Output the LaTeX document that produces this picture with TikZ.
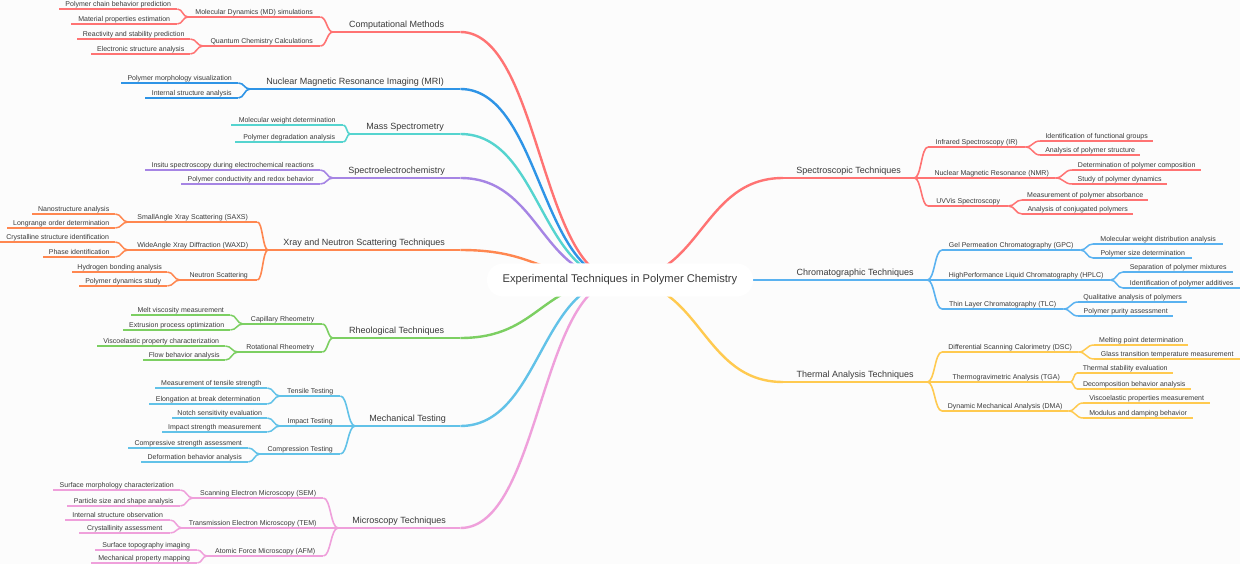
\documentclass[tikz,border=0pt]{standalone}
\usepackage{fontspec}
\setmainfont{Liberation Sans}
\usetikzlibrary{calc}

\definecolor{bgcol}{HTML}{FCFCFC}
\definecolor{txt}{HTML}{3A3A3A}
\definecolor{cRed}{HTML}{FF7373}
\definecolor{cBlue}{HTML}{2E94E6}
\definecolor{cTeal}{HTML}{55D4CF}
\definecolor{cPurple}{HTML}{A685E4}
\definecolor{cOrange}{HTML}{FF8750}
\definecolor{cGreen}{HTML}{7CCF62}
\definecolor{cSky}{HTML}{62C2E8}
\definecolor{cPink}{HTML}{EFA0DB}
\definecolor{cAzure}{HTML}{5AB2F0}
\definecolor{cAmber}{HTML}{FFCA50}

\pgfdeclarelayer{back}
\pgfdeclarelayer{links}
\pgfsetlayers{back,links,main}

\tikzset{
  base/.style={anchor=south west, inner xsep=0pt, text=txt, text height=0.75em, text depth=0.2em},
  topic/.style={base, inner ysep=2pt, font=\fontsize{9}{11}\selectfont},
  sub/.style={base, inner ysep=0pt, font=\fontsize{7}{8}\selectfont},
  leaf/.style={sub},
  root/.style={fill=white, rounded corners=16pt, minimum width=266pt, minimum height=33pt, inner sep=0pt, text=txt, font=\fontsize{11.2}{13}\selectfont},
  hcurve/.style={to path={let \p1=(\tikztostart), \p2=(\tikztotarget) in
      .. controls ({0.5*\x1+0.5*\x2},\y1) and ({0.5*\x1+0.5*\x2},\y2) .. (\tikztotarget)}}
}

\begin{document}
\begin{tikzpicture}[x=1pt,y=-1pt]
\useasboundingbox (0,0) rectangle (1240,564);
\begin{pgfonlayer}{back}
  \fill[bgcol] (0,0) rectangle (1240,564);
\end{pgfonlayer}

\node[root] (root) at (620,280) {Experimental Techniques in Polymer Chemistry};

% left side
\node[topic, minimum width=127pt] (comp) at (333,32) {Computational Methods};
\node[sub, minimum width=132pt] (md) at (188,17) {Molecular Dynamics (MD) simulations};
\node[leaf, minimum width=118pt] (pcb) at (59,9) {Polymer chain behavior prediction};
\node[leaf, minimum width=106pt] (mpe) at (71,24) {Material properties estimation};
\node[sub, minimum width=117pt] (qcc) at (203,46) {Quantum Chemistry Calculations};
\node[leaf, minimum width=113pt] (rsp) at (77,39) {Reactivity and stability prediction};
\node[leaf, minimum width=99pt] (esa) at (91,54) {Electronic structure analysis};

\node[topic, minimum width=210pt] (mri) at (250,89) {Nuclear Magnetic Resonance Imaging (MRI)};
\node[sub, minimum width=117pt] (pmv) at (121,83) {Polymer morphology visualization};
\node[sub, minimum width=93pt] (isa) at (145,98) {Internal structure analysis};

\node[topic, minimum width=110pt] (mass) at (350,134) {Mass Spectrometry};
\node[sub, minimum width=112pt] (mwd) at (231,125) {Molecular weight determination};
\node[sub, minimum width=108pt] (pda) at (235,142) {Polymer degradation analysis};

\node[topic, minimum width=127pt] (sec) at (333,178) {Spectroelectrochemistry};
\node[sub, minimum width=175pt] (isd) at (145,170) {Insitu spectroscopy during electrochemical reactions};
\node[sub, minimum width=139pt] (pcr) at (181,184) {Polymer conductivity and redox behavior};

\node[topic, minimum width=192pt] (xray) at (268,250) {Xray and Neutron Scattering Techniques};
\node[sub, minimum width=129pt] (saxs) at (128,222) {SmallAngle Xray Scattering (SAXS)};
\node[leaf, minimum width=83pt] (nano) at (32,214) {Nanostructure analysis};
\node[leaf, minimum width=108pt] (lro) at (7,228) {Longrange order determination};
\node[sub, minimum width=129pt] (waxd) at (128,250) {WideAngle Xray Diffraction (WAXD)};
\node[leaf, minimum width=115pt] (csi) at (0,242) {Crystalline structure identification};
\node[leaf, minimum width=72pt] (phid) at (43,257) {Phase identification};
\node[sub, minimum width=77pt] (neut) at (180,280) {Neutron Scattering};
\node[leaf, minimum width=95pt] (hba) at (72,272) {Hydrogen bonding analysis};
\node[leaf, minimum width=88pt] (pds) at (79,286) {Polymer dynamics study};

\node[topic, minimum width=127pt] (rheo) at (333,338) {Rheological Techniques};
\node[sub, minimum width=79pt] (cap) at (243,324) {Capillary Rheometry};
\node[leaf, minimum width=99pt] (mvm) at (131,315) {Melt viscosity measurement};
\node[leaf, minimum width=107pt] (epo) at (123,330) {Extrusion process optimization};
\node[sub, minimum width=84pt] (rot) at (238,352) {Rotational Rheometry};
\node[leaf, minimum width=128pt] (vpc) at (97,346) {Viscoelastic property characterization};
\node[leaf, minimum width=82pt] (fba) at (143,360) {Flow behavior analysis};

\node[topic, minimum width=105pt] (mech) at (355,426) {Mechanical Testing};
\node[sub, minimum width=60pt] (tens) at (280,396) {Tensile Testing};
\node[leaf, minimum width=112pt] (mts) at (155,388) {Measurement of tensile strength};
\node[leaf, minimum width=118pt] (ebd) at (149,404) {Elongation at break determination};
\node[sub, minimum width=60pt] (imp) at (280,426) {Impact Testing};
\node[leaf, minimum width=95pt] (nse) at (172,418) {Notch sensitivity evaluation};
\node[leaf, minimum width=105pt] (ism) at (162,432) {Impact strength measurement};
\node[sub, minimum width=80pt] (cmp) at (260,454) {Compression Testing};
\node[leaf, minimum width=120pt] (csa) at (128,448) {Compressive strength assessment};
\node[leaf, minimum width=107pt] (dfa) at (141,462) {Deformation behavior analysis};

\node[topic, minimum width=122pt] (micro) at (338,528) {Microscopy Techniques};
\node[sub, minimum width=130pt] (sem) at (193,498) {Scanning Electron Microscopy (SEM)};
\node[leaf, minimum width=127pt] (smc) at (53,490) {Surface morphology characterization};
\node[leaf, minimum width=113pt] (pss) at (67,506) {Particle size and shape analysis};
\node[sub, minimum width=141pt] (tem) at (182,528) {Transmission Electron Microscopy (TEM)};
\node[leaf, minimum width=105pt] (iso) at (65,520) {Internal structure observation};
\node[leaf, minimum width=91pt] (cra) at (79,533) {Crystallinity assessment};
\node[sub, minimum width=116pt] (afm) at (207,556) {Atomic Force Microscopy (AFM)};
\node[leaf, minimum width=102pt] (sti) at (95,550) {Surface topography imaging};
\node[leaf, minimum width=106pt] (mpm) at (91,563) {Mechanical property mapping};

% right side
\node[topic, minimum width=131pt] (spec) at (783,178) {Spectroscopic Techniques};
\node[sub, minimum width=97pt] (ir) at (928,147) {Infrared Spectroscopy (IR)};
\node[leaf, minimum width=113pt] (ifg) at (1040,141) {Identification of functional groups};
\node[leaf, minimum width=100pt] (aps) at (1040,155) {Analysis of polymer structure};
\node[sub, minimum width=127pt] (nmr) at (928,178) {Nuclear Magnetic Resonance (NMR)};
\node[leaf, minimum width=129pt] (dpc) at (1072,170) {Determination of polymer composition};
\node[leaf, minimum width=95pt] (spd) at (1072,184) {Study of polymer dynamics};
\node[sub, minimum width=80pt] (uvv) at (928,206) {UVVis Spectroscopy};
\node[leaf, minimum width=126pt] (mpa) at (1022,200) {Measurement of polymer absorbance};
\node[leaf, minimum width=111pt] (acp) at (1022,214) {Analysis of conjugated polymers};

\node[topic, minimum width=144pt] (chrom) at (783,280) {Chromatographic Techniques};
\node[sub, minimum width=138pt] (gpc) at (942,250) {Gel Permeation Chromatography (GPC)};
\node[leaf, minimum width=130pt] (mwda) at (1093,244) {Molecular weight distribution analysis};
\node[leaf, minimum width=99pt] (psd) at (1093,258) {Polymer size determination};
\node[sub, minimum width=168pt] (hplc) at (942,280) {HighPerformance Liquid Chromatography (HPLC)};
\node[leaf, minimum width=110pt] (spm) at (1123,272) {Separation of polymer mixtures};
\node[leaf, minimum width=117pt] (ipa) at (1123,288) {Identification of polymer additives};
\node[sub, minimum width=121pt] (tlc) at (942,309) {Thin Layer Chromatography (TLC)};
\node[leaf, minimum width=109pt] (qap) at (1078,302) {Qualitative analysis of polymers};
\node[leaf, minimum width=95pt] (ppa) at (1078,316) {Polymer purity assessment};

\node[topic, minimum width=144pt] (therm) at (783,382) {Thermal Analysis Techniques};
\node[sub, minimum width=136pt] (dsc) at (942,352) {Differential Scanning Calorimetry (DSC)};
\node[leaf, minimum width=94pt] (mpd) at (1094,345) {Melting point determination};
\node[leaf, minimum width=146pt] (gtt) at (1094,359) {Glass transition temperature measurement};
\node[sub, minimum width=128pt] (tga) at (942,382) {Thermogravimetric Analysis (TGA)};
\node[leaf, minimum width=96pt] (tse) at (1077,373) {Thermal stability evaluation};
\node[leaf, minimum width=114pt] (dba) at (1077,389) {Decomposition behavior analysis};
\node[sub, minimum width=126pt] (dma) at (942,411) {Dynamic Mechanical Analysis (DMA)};
\node[leaf, minimum width=127pt] (vpm) at (1083,403) {Viscoelastic properties measurement};
\node[leaf, minimum width=110pt] (mdb) at (1083,418) {Modulus and damping behavior};

% underlines
\foreach \k/\c in {comp/cRed, mri/cBlue, mass/cTeal, sec/cPurple, xray/cOrange, rheo/cGreen,
    mech/cSky, micro/cPink, spec/cRed, chrom/cAzure, therm/cAmber}
  \draw[color=\c, line width=1.8pt] (\k.south west) -- (\k.south east);
\foreach \k/\c in {md/cRed, qcc/cRed, pmv/cBlue, isa/cBlue, mwd/cTeal, pda/cTeal, isd/cPurple, pcr/cPurple,
    saxs/cOrange, waxd/cOrange, neut/cOrange, cap/cGreen, rot/cGreen, tens/cSky, imp/cSky, cmp/cSky,
    sem/cPink, tem/cPink, afm/cPink, ir/cRed, nmr/cRed, uvv/cRed, gpc/cAzure, hplc/cAzure, tlc/cAzure,
    dsc/cAmber, tga/cAmber, dma/cAmber}
  \draw[color=\c, line width=1.6pt] (\k.south west) -- (\k.south east);
\foreach \k/\c in {pcb/cRed, mpe/cRed, rsp/cRed, esa/cRed, nano/cOrange, lro/cOrange, csi/cOrange,
    phid/cOrange, hba/cOrange, pds/cOrange, mvm/cGreen, epo/cGreen, vpc/cGreen, fba/cGreen,
    mts/cSky, ebd/cSky, nse/cSky, ism/cSky, csa/cSky, dfa/cSky, smc/cPink, pss/cPink, iso/cPink,
    cra/cPink, sti/cPink, mpm/cPink, ifg/cRed, aps/cRed, dpc/cRed, spd/cRed, mpa/cRed, acp/cRed,
    mwda/cAzure, psd/cAzure, spm/cAzure, ipa/cAzure, qap/cAzure, ppa/cAzure, mpd/cAmber, gtt/cAmber,
    tse/cAmber, dba/cAmber, vpm/cAmber, mdb/cAmber}
  \draw[color=\c, line width=1.5pt] (\k.south west) -- (\k.south east);

% connectors
\begin{pgfonlayer}{links}
\foreach \k/\c in {comp/cRed, mri/cBlue, mass/cTeal, sec/cPurple, xray/cOrange, rheo/cGreen,
    mech/cSky, micro/cPink}
  \draw[color=\c, line width=2.4pt] (\k.south east) to[hcurve] (root.center);
\foreach \k/\c in {spec/cRed, chrom/cAzure, therm/cAmber}
  \draw[color=\c, line width=2.4pt] (root.center) to[hcurve] (\k.south west);
\foreach \a/\b/\c in {md/comp/cRed, qcc/comp/cRed, pmv/mri/cBlue, isa/mri/cBlue, mwd/mass/cTeal,
    pda/mass/cTeal, isd/sec/cPurple, pcr/sec/cPurple, saxs/xray/cOrange, waxd/xray/cOrange,
    neut/xray/cOrange, cap/rheo/cGreen, rot/rheo/cGreen, tens/mech/cSky, imp/mech/cSky,
    cmp/mech/cSky, sem/micro/cPink, tem/micro/cPink, afm/micro/cPink,
    spec/ir/cRed, spec/nmr/cRed, spec/uvv/cRed, chrom/gpc/cAzure, chrom/hplc/cAzure,
    chrom/tlc/cAzure, therm/dsc/cAmber, therm/tga/cAmber, therm/dma/cAmber}
  \draw[color=\c, line width=1.6pt] (\a.south east) to[hcurve] (\b.south west);
\foreach \a/\b/\c in {pcb/md/cRed, mpe/md/cRed, rsp/qcc/cRed, esa/qcc/cRed, nano/saxs/cOrange,
    lro/saxs/cOrange, csi/waxd/cOrange, phid/waxd/cOrange, hba/neut/cOrange, pds/neut/cOrange,
    mvm/cap/cGreen, epo/cap/cGreen, vpc/rot/cGreen, fba/rot/cGreen, mts/tens/cSky, ebd/tens/cSky,
    nse/imp/cSky, ism/imp/cSky, csa/cmp/cSky, dfa/cmp/cSky, smc/sem/cPink, pss/sem/cPink,
    iso/tem/cPink, cra/tem/cPink, sti/afm/cPink, mpm/afm/cPink,
    ir/ifg/cRed, ir/aps/cRed, nmr/dpc/cRed, nmr/spd/cRed, uvv/mpa/cRed, uvv/acp/cRed,
    gpc/mwda/cAzure, gpc/psd/cAzure, hplc/spm/cAzure, hplc/ipa/cAzure, tlc/qap/cAzure,
    tlc/ppa/cAzure, dsc/mpd/cAmber, dsc/gtt/cAmber, tga/tse/cAmber, tga/dba/cAmber,
    dma/vpm/cAmber, dma/mdb/cAmber}
  \draw[color=\c, line width=1.5pt] (\a.south east) to[hcurve] (\b.south west);
\end{pgfonlayer}
\end{tikzpicture}
\end{document}
